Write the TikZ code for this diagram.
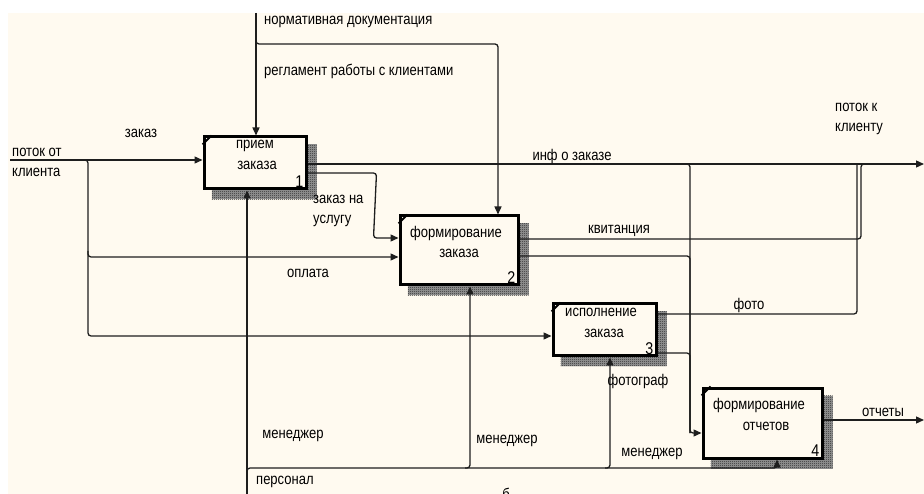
\documentclass[tikz,border=0pt]{standalone}
\usepackage{fontspec}
\setmainfont{Liberation Sans}
\newfontfamily\lblfont[FakeStretch=0.84]{Liberation Sans}
\usetikzlibrary{arrows.meta,patterns,calc,backgrounds}
\pgfdeclarepatternformonly{idefhatch}{\pgfpointorigin}{\pgfpoint{2pt}{2pt}}{\pgfpoint{2pt}{2pt}}{%
  \pgfpathrectangle{\pgfpointorigin}{\pgfpoint{1pt}{1pt}}%
  \pgfpathrectangle{\pgfpoint{1pt}{1pt}}{\pgfpoint{1pt}{1pt}}%
  \pgfusepath{fill}}
\definecolor{bgcream}{RGB}{255,250,240}
\definecolor{ln}{RGB}{30,30,30}
\begin{document}
\begin{tikzpicture}[x=1pt,y=-1pt,
  lbl/.style={font=\lblfont\fontsize{15.5}{20}\selectfont, inner sep=0pt, text=black},
  num/.style={font=\lblfont\fontsize{17}{20}\selectfont, inner sep=0pt, text=black},
  fbox/.style={draw=black, line width=3pt, fill=bgcream, inner sep=0pt},
  corner/.style={draw=black, line width=2pt},
  shadowbase/.style={fill=black!40},
  shadowfill/.style={pattern=idefhatch, pattern color=black!85},
  conn/.style={draw=ln, line width=1.3pt, rounded corners=3pt},
  arr/.style={conn, -{Triangle[length=8pt,width=7pt]}},
]
\useasboundingbox (0,0) rectangle (924,494);

% boxes
\node[fbox, minimum width=102pt, minimum height=52pt] (b1) at (255,163) {};
\node[fbox, minimum width=118pt, minimum height=69pt] (b2) at (459,250.5) {};
\node[fbox, minimum width=103pt, minimum height=52pt] (b3) at (604.5,330) {};
\node[fbox, minimum width=119pt, minimum height=70pt] (b4) at (762.5,423) {};

\begin{pgfonlayer}{background}
  \fill[white] (0,0) rectangle (924,494);
  \fill[bgcream] (8,13) rectangle (924,494);
  \foreach \b in {b1,b2,b3,b4}{
    \fill[shadowbase] ($(\b.north west)+(9,9)$) rectangle ($(\b.south east)+(9,9)$);
    \fill[shadowfill] ($(\b.north west)+(9,9)$) rectangle ($(\b.south east)+(9,9)$);
  }
\end{pgfonlayer}

\foreach \b in {b1,b2,b3,b4}{
  \draw[corner] ($(\b.north west)+(0,9)$) -- ($(\b.north west)+(9,0)$);
}

% box texts
\node[lbl] (t1a) at (255,146) {прием};
\node[lbl] (t1b) at (257,165) {заказа};
\node[num, anchor=south east] (n1) at ($(b1.south east)+(-4,-3)$) {1};
\node[lbl] (t2a) at (456,233) {формирование};
\node[lbl] (t2b) at (459,253) {заказа};
\node[num, anchor=south east] (n2) at ($(b2.south east)+(-4,-3)$) {2};
\node[lbl] (t3a) at (601,312) {исполнение};
\node[lbl] (t3b) at (604,333) {заказа};
\node[num, anchor=south east] (n3) at ($(b3.south east)+(-4,-3)$) {3};
\node[lbl] (t4a) at (759,405) {формирование};
\node[lbl] (t4b) at (766,426) {отчетов};
\node[num, anchor=south east] (n4) at ($(b4.south east)+(-4,-3)$) {4};

% attachment points
\coordinate (i1) at ($(b1.west)+(0,-3)$);
\coordinate (i2a) at ($(b2.west)+(0,-12.5)$);
\coordinate (i2b) at ($(b2.west)+(0,6.5)$);
\coordinate (i3) at ($(b3.west)+(0,6)$);
\coordinate (i4) at ($(b4.west)+(0,10)$);
\coordinate (o1a) at ($(b1.east)+(0,1)$);
\coordinate (o1b) at ($(b1.east)+(0,10)$);
\coordinate (o2a) at ($(b2.east)+(0,-11.5)$);
\coordinate (o2b) at ($(b2.east)+(0,5.5)$);
\coordinate (o3a) at ($(b3.east)+(0,-16)$);
\coordinate (o3b) at ($(b3.east)+(0,23)$);
\coordinate (o4) at ($(b4.east)+(0,-3)$);
\coordinate (c1) at ($(b1.north)+(1,0)$);
\coordinate (c2) at ($(b2.north)+(39,0)$);
\coordinate (m1) at ($(b1.south)+(-8,0)$);
\coordinate (m2) at ($(b2.south)+(11,0)$);
\coordinate (m3) at ($(b3.south)+(5.5,0)$);
\coordinate (m4) at ($(b4.south)+(14.5,0)$);

% free ends and junctions
\coordinate (inL) at (10,160);
\coordinate (outR) at (924,164);
\coordinate (outR2) at (924,420);
\coordinate (ctop) at (256,13);
\coordinate (mbot) at (247,494);
\coordinate (jin) at (88,160);
\coordinate (jct) at (256,44);
\coordinate (jmech) at (247,468);
\coordinate (xkv) at (861,164);
\coordinate (xfo) at (857,164);
\coordinate (x4) at (690,164);

% inputs
\draw[arr] (inL) -- (i1);
\draw[arr] ($(jin)+(-5,0)$) -- (jin) -- (jin |- i3) -- (i3);
\draw[arr] ($(jin |- i2b)+(0,-6)$) -- (jin |- i2b) -- (i2b);
\draw[arr] (o1b) -- ($(o1b)+(69,0)$) -- ($(i2a)+(-25,0)$) -- (i2a);

% outputs
\draw[arr] (o1a) -- (outR);
\draw[conn] (o2a) -- (o2a -| xkv) -- (xkv) -- ($(xkv)+(6,0)$);
\draw[conn] (o3a) -- (o3a -| xfo) -- (xfo);
\draw[conn] ($(x4)+(-5,0)$) -- (x4) -- (x4 |- i4);
\draw[arr] (o2b) -- (o2b -| x4) -- (x4 |- i4) -- (i4);
\draw[conn] (o3b) -- (o3b -| x4) -- (x4 |- i4);
\draw[arr] (o4) -- (outR2);

% controls
\draw[arr] (ctop) -- (c1);
\draw[arr] ($(jct)+(0,-4)$) -- (jct) -- (jct -| c2) -- (c2);

% mechanisms
\draw[arr] (mbot) -- (m1);
\draw[arr] ($(jmech)+(0,4)$) -- (jmech) -- (jmech -| m4) -- (m4);
\draw[arr] ($(jmech -| m2)+(-5,0)$) -- (jmech -| m2) -- (m2);
\draw[arr] ($(jmech -| m3)+(-5,0)$) -- (jmech -| m3) -- (m3);

% labels
\node[lbl, anchor=west, align=left] (lin) at (12,162) {поток от\\клиента};
\node[lbl] (lzak) at (141,133) {заказ};
\node[lbl, anchor=west] (lnorm) at (264,22) {нормативная документация};
\node[lbl, anchor=west] (lreg) at (264,71) {регламент работы с клиентами};
\node[lbl] (linf) at (572,156) {инф о заказе};
\node[lbl, anchor=west, align=left] (lout) at (835,119) {поток к\\клиенту};
\node[lbl, anchor=west, align=left] (lzu) at (313,211) {заказ на\\услугу};
\node[lbl] (lkv) at (619,231) {квитанция};
\node[lbl] (lopl) at (308,273) {оплата};
\node[lbl] (lfoto) at (749,305) {фото};
\node[lbl] (lfgr) at (638,381) {фотограф};
\node[lbl] (lm1) at (293,436) {менеджер};
\node[lbl] (lm2) at (507,441) {менеджер};
\node[lbl] (lm3) at (652,454) {менеджер};
\node[lbl, anchor=west] (lpers) at (256,482) {персонал};
\node[lbl] (lotch) at (883,412) {отчеты};
\node[lbl, anchor=north] (lcut) at (506,488) {б};
\end{tikzpicture}
\end{document}
